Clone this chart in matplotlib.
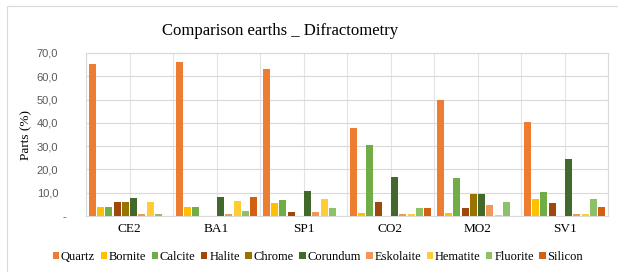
import numpy as np
import matplotlib
matplotlib.use('Agg')
import matplotlib.pyplot as plt
from matplotlib.patches import Rectangle
from matplotlib.ticker import FixedLocator
from matplotlib.transforms import ScaledTranslation

samples = ['CE2', 'BA1', 'SP1', 'CO2', 'MO2', 'SV1']
minerals = ['Quartz', 'Bornite', 'Calcite', 'Halite', 'Chrome', 'Corundum',
            'Eskolaite', 'Hematite', 'Fluorite', 'Silicon']

quartz    = [65.4, 66.0, 63.1, 37.6, 49.7, 40.3]
bornite   = [4.0, 4.0, 5.4, 1.4, 1.4, 7.1]
calcite   = [4.0, 4.0, 7.0, 30.6, 16.3, 10.4]
halite    = [5.9, 0.0, 1.9, 6.0, 3.6, 5.6]
chrome    = [5.9, 0.0, 0.0, 0.0, 9.3, 0.0]
corundum  = [7.9, 8.3, 10.6, 16.7, 9.3, 24.6]
eskolaite = [1.0, 1.0, 1.9, 0.7, 4.7, 1.0]
hematite  = [5.9, 6.3, 7.1, 0.7, 0.6, 1.0]
fluorite  = [1.0, 2.0, 3.6, 3.6, 5.9, 7.1]
silicon   = [0.0, 8.3, 0.0, 3.6, 0.0, 3.7]

yticks = [0, 10, 20, 30, 40, 50, 60, 70]
ytick_labels = ['-', '10,0', '20,0', '30,0', '40,0', '50,0', '60,0', '70,0']

series = [quartz, bornite, calcite, halite, chrome, corundum,
          eskolaite, hematite, fluorite, silicon]
colors = ['#ED7D31', '#FFC000', '#70AD47', '#9E480E', '#997300', '#43682B',
          '#F1975A', '#FFCD33', '#8CC168', '#D26012']

serif = ['Liberation Serif', 'DejaVu Serif']
sans = ['Liberation Sans', 'DejaVu Sans']

fig = plt.figure(figsize=(6.18, 2.72), dpi=100)
fig.patch.set_facecolor('white')

# outer chart border
fig.patches.append(Rectangle((7 / 618, -0.1), 1.2, 1 - 6 / 272 + 0.1,
                             transform=fig.transFigure, fill=False,
                             edgecolor='#D9D9D9', linewidth=0.8))

ax = fig.add_axes([86 / 618, 1 - 216 / 272, 522 / 618, 163 / 272])

x = np.arange(len(samples))
step = 0.095
width = 0.08
for i, (vals, name, c) in enumerate(zip(series, minerals, colors)):
    ax.bar(x + (i - 4.5) * step, vals, width, color=c, label=name, zorder=3)

ax.set_xlim(-0.5, len(samples) - 0.5)
ax.set_ylim(0, 70)
ax.set_yticks(yticks)
ax.set_yticklabels(ytick_labels, family=sans, fontsize=8, color='#595959')
ax.set_xticks(x)
ax.set_xticklabels(samples, family=serif, fontsize=9.5)
ax.xaxis.set_minor_locator(FixedLocator(np.arange(-0.5, len(samples), 1)))
ax.tick_params(axis='both', which='both', length=0)
ax.tick_params(axis='x', pad=5)
ax.tick_params(axis='y', pad=20)

# accounting-style dash sits further right than the numbers
zero_lbl = ax.get_yticklabels()[0]
zero_lbl.set_transform(zero_lbl.get_transform() +
                       ScaledTranslation(6 / 72, 0, fig.dpi_scale_trans))

ax.grid(True, axis='y', color='#D9D9D9', linewidth=0.8, zorder=0)
ax.grid(True, axis='x', which='both', color='#E3E3E3', linewidth=0.8, zorder=0)
for s in ax.spines.values():
    s.set_color('#D9D9D9')
    s.set_linewidth(0.8)

ax.set_ylabel('Parts (%)', family=serif, fontsize=9.5)
ax.yaxis.set_label_coords(-0.102, 0.5)

fig.text(280 / 618, 1 - 31 / 272, 'Comparison earths _ Difractometry',
         family=serif, fontsize=12, ha='center', va='center')

fig.legend(loc='center', bbox_to_anchor=(318 / 618, 1 - 257 / 272), ncol=10,
           frameon=False, prop={'family': serif, 'size': 9},
           handlelength=0.5, handleheight=0.5, handletextpad=0.15,
           columnspacing=0.45, borderpad=0)

fig.savefig('out.png', dpi=100)
